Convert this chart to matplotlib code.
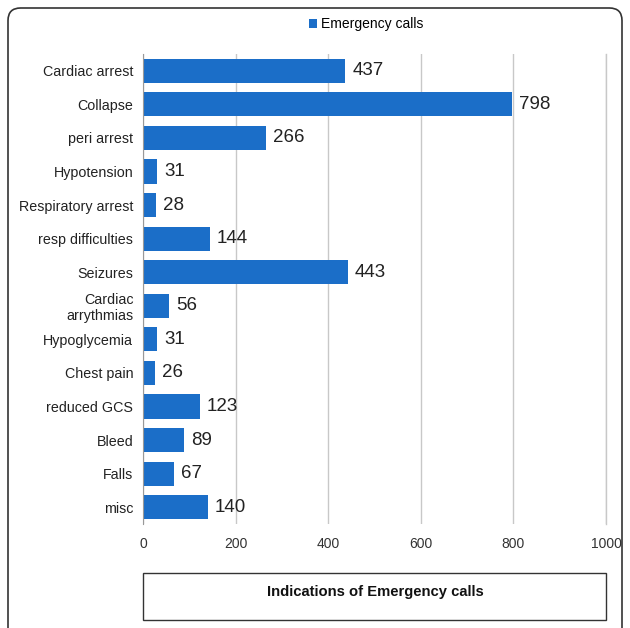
import matplotlib
matplotlib.use("Agg")
import matplotlib.pyplot as plt
from matplotlib.patches import FancyBboxPatch, Rectangle

plt.rcParams['font.family'] = ['Liberation Sans', 'DejaVu Sans']

categories = ["Cardiac arrest", "Collapse", "peri arrest", "Hypotension",
              "Respiratory arrest", "resp difficulties", "Seizures",
              "Cardiac\narrythmias", "Hypoglycemia", "Chest pain",
              "reduced GCS", "Bleed", "Falls", "misc"]
calls = [437, 798, 266, 31, 28, 144, 443, 56, 31, 26, 123, 89, 67, 140]
x_ticks = [0, 200, 400, 600, 800, 1000]
series_name = "Emergency calls"
box_title = "Indications of Emergency calls"

W, H = 630, 628
fig = plt.figure(figsize=(W / 100, H / 100), dpi=100)

# outer rounded frame
frame = FancyBboxPatch((8 / W, -20 / H), (622 - 8) / W, (H - 8 + 20) / H,
                       boxstyle="round,pad=0,rounding_size=0.02",
                       transform=fig.transFigure, fill=False,
                       edgecolor="#333333", linewidth=1.2)
fig.patches.append(frame)

ax = fig.add_axes([143 / W, 1 - 524 / H, (606 - 143) / W, (524 - 54) / H])
ypos = list(range(len(categories)))
bars = ax.barh(ypos, calls, height=0.72, color="#1b6ec8", label=series_name)
ax.set_ylim(len(categories) - 0.5, -0.5)
ax.set_xlim(0, 1000)
ax.set_xticks(x_ticks)
ax.set_xticklabels([str(t) for t in x_ticks], fontsize=10, color="#333333")
ax.set_yticks(ypos)
ax.set_yticklabels(categories, fontsize=10.3, color="#222222")
ax.tick_params(axis='y', length=0, pad=7)
ax.tick_params(axis='x', length=0, pad=9)
ax.grid(axis='x', color="#c8c8c8", linewidth=1)
ax.set_axisbelow(True)
ax.axvline(1000, color="#c8c8c8", linewidth=1, clip_on=False, zorder=0)
for s in ["top", "right", "bottom"]:
    ax.spines[s].set_visible(False)
ax.spines["left"].set_color("#999999")

for y, v in zip(ypos, calls):
    ax.text(v + 15, y, str(v), va="center", ha="left", fontsize=13.5, color="#222222")

fig.legend(handles=[bars], labels=[series_name], loc="center",
           bbox_to_anchor=(366 / W, 1 - 24 / H), frameon=False,
           fontsize=10, handlelength=0.6, handleheight=0.6,
           handletextpad=0.3, borderaxespad=0)

# caption box below the chart
box = Rectangle((143 / W, 1 - 620 / H), (606 - 143) / W, (620 - 573) / H,
                transform=fig.transFigure, fill=False, edgecolor="#333333", linewidth=1)
fig.patches.append(box)
fig.text(375 / W, 1 - 592 / H, box_title, ha="center", va="center",
         fontsize=10.6, fontweight="bold", color="#111111")

fig.savefig("out.png", dpi=100)
